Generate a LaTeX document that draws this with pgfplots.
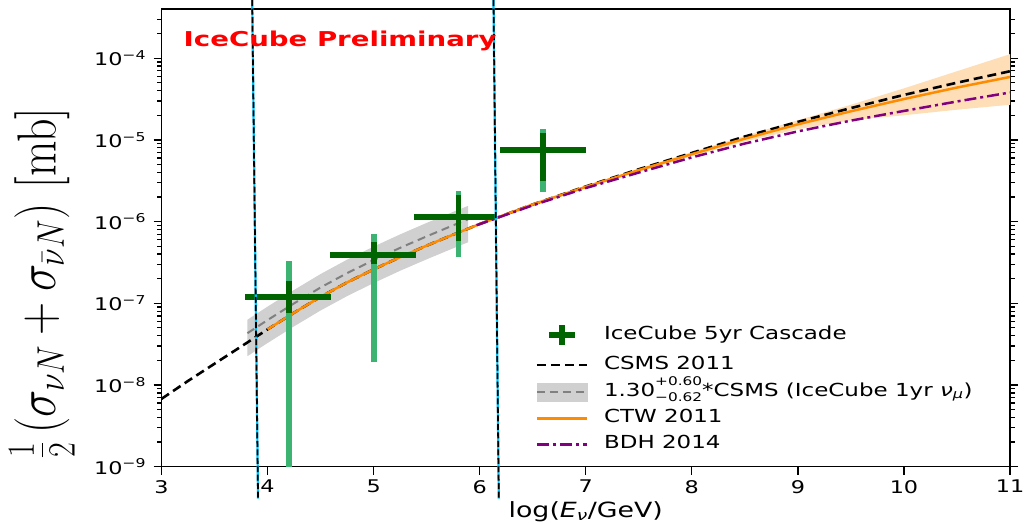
\RequirePackage{fix-cm}
\documentclass[border=0pt]{standalone}
\usepackage[no-math]{fontspec}
\setmainfont{DejaVu Sans}[FakeStretch=1.28]
\newfontfamily\prelimfont{DejaVu Sans}[FakeStretch=1.35]
\usepackage{graphicx}
\usepackage{pgfplots}
\pgfplotsset{compat=1.18}
\definecolor{dkgreen}{RGB}{0,100,0}
\definecolor{ltgreen}{RGB}{60,179,113}
\definecolor{dorange}{RGB}{255,140,0}
\definecolor{bandorange}{RGB}{253,222,182}
\definecolor{bandgray}{RGB}{208,208,208}
\definecolor{dpurple}{RGB}{128,0,128}
\definecolor{vcyan}{RGB}{0,200,255}
\begin{document}
\begin{tikzpicture}
\begin{axis}[
  at={(0,0)}, anchor=south west,
  width=851pt, height=459pt, scale only axis,
  xmin=3, xmax=11, ymin=1e-9, ymax=4e-4,
  ymode=log,
  clip=false,
  xtick={3,4,5,6,7,8,9,10,11},
  xticklabels={3,4,5,6,7,8,9,10,11},
  xtick pos=lower, ytick pos=both, tick align=outside,
  ytick={1e-9,1e-8,1e-7,1e-6,1e-5,1e-4},
  yticklabels={10\textsuperscript{−9},10\textsuperscript{−8},10\textsuperscript{−7},10\textsuperscript{−6},10\textsuperscript{−5},10\textsuperscript{−4}},
  minor ytick={2e-9,3e-9,4e-9,5e-9,6e-9,7e-9,8e-9,9e-9,
               2e-8,3e-8,4e-8,5e-8,6e-8,7e-8,8e-8,9e-8,
               2e-7,3e-7,4e-7,5e-7,6e-7,7e-7,8e-7,9e-7,
               2e-6,3e-6,4e-6,5e-6,6e-6,7e-6,8e-6,9e-6,
               2e-5,3e-5,4e-5,5e-5,6e-5,7e-5,8e-5,9e-5,
               2e-4,3e-4},
  major tick length=8pt, minor tick length=4.5pt,
  tick style={black, line width=1.3pt},
  axis line style={line width=1.5pt},
  tick label style={font=\fontsize{17.5}{20}\selectfont},
  xticklabel style={yshift=-2pt},
  yticklabel style={xshift=-4pt},
  xlabel={log(\textit{E}\textsubscript{\textit{ν}}/GeV)},
  xlabel style={font=\fontsize{21}{24}\selectfont, at={(rel axis cs:0.5,0)}, anchor=center, yshift=-45pt},
  ylabel={\scalebox{1}[1.2]{$\frac{1}{2}\left(\sigma_{\nu N}+\sigma_{\bar{\nu} N}\right)\,[\mathrm{mb}]$}},
  ylabel style={font=\fontsize{46}{52}\selectfont, at={(rel axis cs:-0.141,0.401)}, anchor=center},
  legend cell align=left,
  legend style={draw=none, fill=none, at={(rel axis cs:0.4407,0.317)}, anchor=north west,
    font=\fontsize{18}{20}\selectfont, inner sep=0pt, row sep=9pt, column sep=16pt,
    nodes={inner sep=0pt, text height=13pt, text depth=4pt}},
]
% legend images
\addlegendimage{legend image code/.code={
  \draw[dkgreen, line width=6pt] (12pt,0pt) -- (38pt,0pt);
  \draw[dkgreen, line width=6pt] (25pt,-10pt) -- (25pt,10pt);}}
\addlegendentry{IceCube 5yr Cascade}
\addlegendimage{legend image code/.code={
  \draw[black, line width=2.6pt, dash pattern=on 9pt off 5pt] (0pt,0pt) -- (50pt,0pt);}}
\addlegendentry{CSMS 2011}
\addlegendimage{legend image code/.code={
  \fill[bandgray] (0pt,-9pt) rectangle (50pt,9pt);
  \draw[gray, line width=2pt, dash pattern=on 8pt off 5pt] (0pt,0pt) -- (50pt,0pt);}}
\addlegendentry{1.30\rlap{\raisebox{0.62em}{\fontsize{12}{12}\selectfont +0.60}}\raisebox{-0.32em}{\fontsize{12}{12}\selectfont −0.62}*CSMS (IceCube 1yr \textit{ν}\textsubscript{\textit{μ}})}
\addlegendimage{legend image code/.code={
  \draw[dorange, line width=2.5pt] (0pt,0pt) -- (50pt,0pt);}}
\addlegendentry{CTW 2011}
\addlegendimage{legend image code/.code={
  \draw[dpurple, line width=2.5pt, dash pattern=on 12pt off 4pt on 3pt off 4pt] (0pt,0pt) -- (50pt,0pt);}}
\addlegendentry{BDH 2014}

% gray band (IceCube 1yr numu)
\addplot[fill=bandgray, draw=none, forget plot] coordinates {
 (3.81,6.29e-8) (4.0,9.10e-8) (4.25,1.457e-7) (4.5,2.28e-7) (4.75,3.42e-7) (5.0,4.94e-7)
 (5.25,6.97e-7) (5.5,9.63e-7) (5.75,1.315e-6) (5.89,1.556e-6)
 (5.89,5.57e-7) (5.75,4.71e-7) (5.5,3.45e-7) (5.25,2.50e-7) (5.0,1.768e-7) (4.75,1.224e-7)
 (4.5,8.16e-8) (4.25,5.22e-8) (4.0,3.26e-8) (3.81,2.25e-8)} -- cycle;
% orange band
\addplot[fill=bandorange, draw=none, forget plot] coordinates {
 (6.0,9.55e-7) (7.0,2.75e-6) (8.0,7.08e-6) (8.5,1.12e-5) (9.0,1.74e-5) (9.5,2.69e-5)
 (10.0,4.27e-5) (10.5,6.92e-5) (11.0,1.12e-4)
 (11.0,2.69e-5) (10.5,2.34e-5) (10.0,2.00e-5) (9.5,1.74e-5) (9.0,1.35e-5) (8.5,9.55e-6)
 (8.0,6.31e-6) (7.0,2.57e-6) (6.0,9.12e-7)} -- cycle;
% CSMS 2011
\addplot[black, line width=2.6pt, dash pattern=on 9pt off 5pt, forget plot] coordinates {
 (3.0,6.76e-9) (3.25,1.12e-8) (3.5,1.82e-8) (3.75,2.95e-8) (4.0,4.79e-8) (4.25,7.67e-8)
 (4.5,1.20e-7) (4.75,1.80e-7) (5.0,2.60e-7) (5.25,3.67e-7) (5.5,5.07e-7) (5.75,6.92e-7)
 (6.0,9.33e-7) (6.5,1.62e-6) (7.0,2.69e-6) (7.5,4.37e-6) (8.0,6.92e-6) (8.5,1.10e-5)
 (9.0,1.66e-5) (9.5,2.45e-5) (10.0,3.55e-5) (10.5,5.01e-5) (11.0,6.92e-5)};
% 1.3 x CSMS
\addplot[gray, line width=2pt, dash pattern=on 8pt off 5pt, forget plot] coordinates {
 (3.81,4.30e-8) (4.0,6.23e-8) (4.25,9.97e-8) (4.5,1.56e-7) (4.75,2.34e-7) (5.0,3.38e-7)
 (5.25,4.77e-7) (5.5,6.59e-7) (5.75,9.00e-7) (5.89,1.065e-6)};
% CTW 2011
\addplot[dorange, line width=2.5pt, forget plot] coordinates {
 (4.0,4.79e-8) (4.25,7.67e-8) (4.5,1.20e-7) (4.75,1.80e-7) (5.0,2.60e-7) (5.25,3.67e-7)
 (5.5,5.07e-7) (5.75,6.92e-7) (6.0,9.33e-7) (6.5,1.62e-6) (7.0,2.66e-6) (7.5,4.27e-6)
 (8.0,6.68e-6) (8.5,1.035e-5) (9.0,1.55e-5) (9.5,2.24e-5) (10.0,3.16e-5) (10.5,4.37e-5)
 (11.0,5.89e-5)};
% BDH 2014
\addplot[dpurple, line width=2.5pt, dash pattern=on 12pt off 4pt on 3pt off 4pt, forget plot] coordinates {
 (5.97,9.02e-7) (6.5,1.58e-6) (7.0,2.57e-6) (7.5,3.98e-6) (8.0,6.10e-6) (8.5,9.02e-6)
 (9.0,1.27e-5) (9.5,1.72e-5) (10.0,2.26e-5) (10.5,2.95e-5) (11.0,3.80e-5)};

% IceCube 5yr cascade: light (outer) vertical bars
\addplot[ltgreen, line width=6pt, forget plot] coordinates {(4.2,1e-9) (4.2,3.29e-7)};
\addplot[ltgreen, line width=6pt, forget plot] coordinates {(5.0,1.89e-8) (5.0,6.97e-7)};
\addplot[ltgreen, line width=6pt, forget plot] coordinates {(5.8,3.7e-7) (5.8,2.35e-6)};
\addplot[ltgreen, line width=6pt, forget plot] coordinates {(6.6,2.29e-6) (6.6,1.37e-5)};
% dark vertical bars
\addplot[dkgreen, line width=6pt, forget plot] coordinates {(4.2,7.7e-8) (4.2,1.87e-7)};
\addplot[dkgreen, line width=6pt, forget plot] coordinates {(5.0,3.0e-7) (5.0,5.6e-7)};
\addplot[dkgreen, line width=6pt, forget plot] coordinates {(5.8,5.77e-7) (5.8,2.14e-6)};
\addplot[dkgreen, line width=6pt, forget plot] coordinates {(6.6,3.1e-6) (6.6,1.21e-5)};
% horizontal bars
\addplot[dkgreen, line width=6pt, forget plot] coordinates {(3.79,1.19e-7) (4.6,1.19e-7)};
\addplot[dkgreen, line width=6pt, forget plot] coordinates {(4.59,3.89e-7) (5.4,3.89e-7)};
\addplot[dkgreen, line width=6pt, forget plot] coordinates {(5.38,1.15e-6) (6.15,1.15e-6)};
\addplot[dkgreen, line width=6pt, forget plot] coordinates {(6.19,7.45e-6) (7.0,7.45e-6)};

% vertical guide lines
\addplot[vcyan, line width=2.2pt, forget plot] coordinates {(3.855,5.13e-4) (3.91,4.07e-10)};
\addplot[black, line width=1.8pt, dash pattern=on 6pt off 2.5pt, forget plot] coordinates {(3.855,5.13e-4) (3.91,4.07e-10)};
\addplot[vcyan, line width=2.2pt, forget plot] coordinates {(6.13,5.13e-4) (6.18,4.07e-10)};
\addplot[black, line width=1.8pt, dash pattern=on 6pt off 2.5pt, forget plot] coordinates {(6.13,5.13e-4) (6.18,4.07e-10)};

\node[anchor=base west, text=red, font=\prelimfont\bfseries\fontsize{20.5}{24}\selectfont, inner sep=0pt]
  at (rel axis cs:0.0259,0.917) {IceCube Preliminary};
\end{axis}
\pgfresetboundingbox
\path[use as bounding box] (-162pt,-57pt) rectangle (866pt,468pt);
\end{tikzpicture}
\end{document}
